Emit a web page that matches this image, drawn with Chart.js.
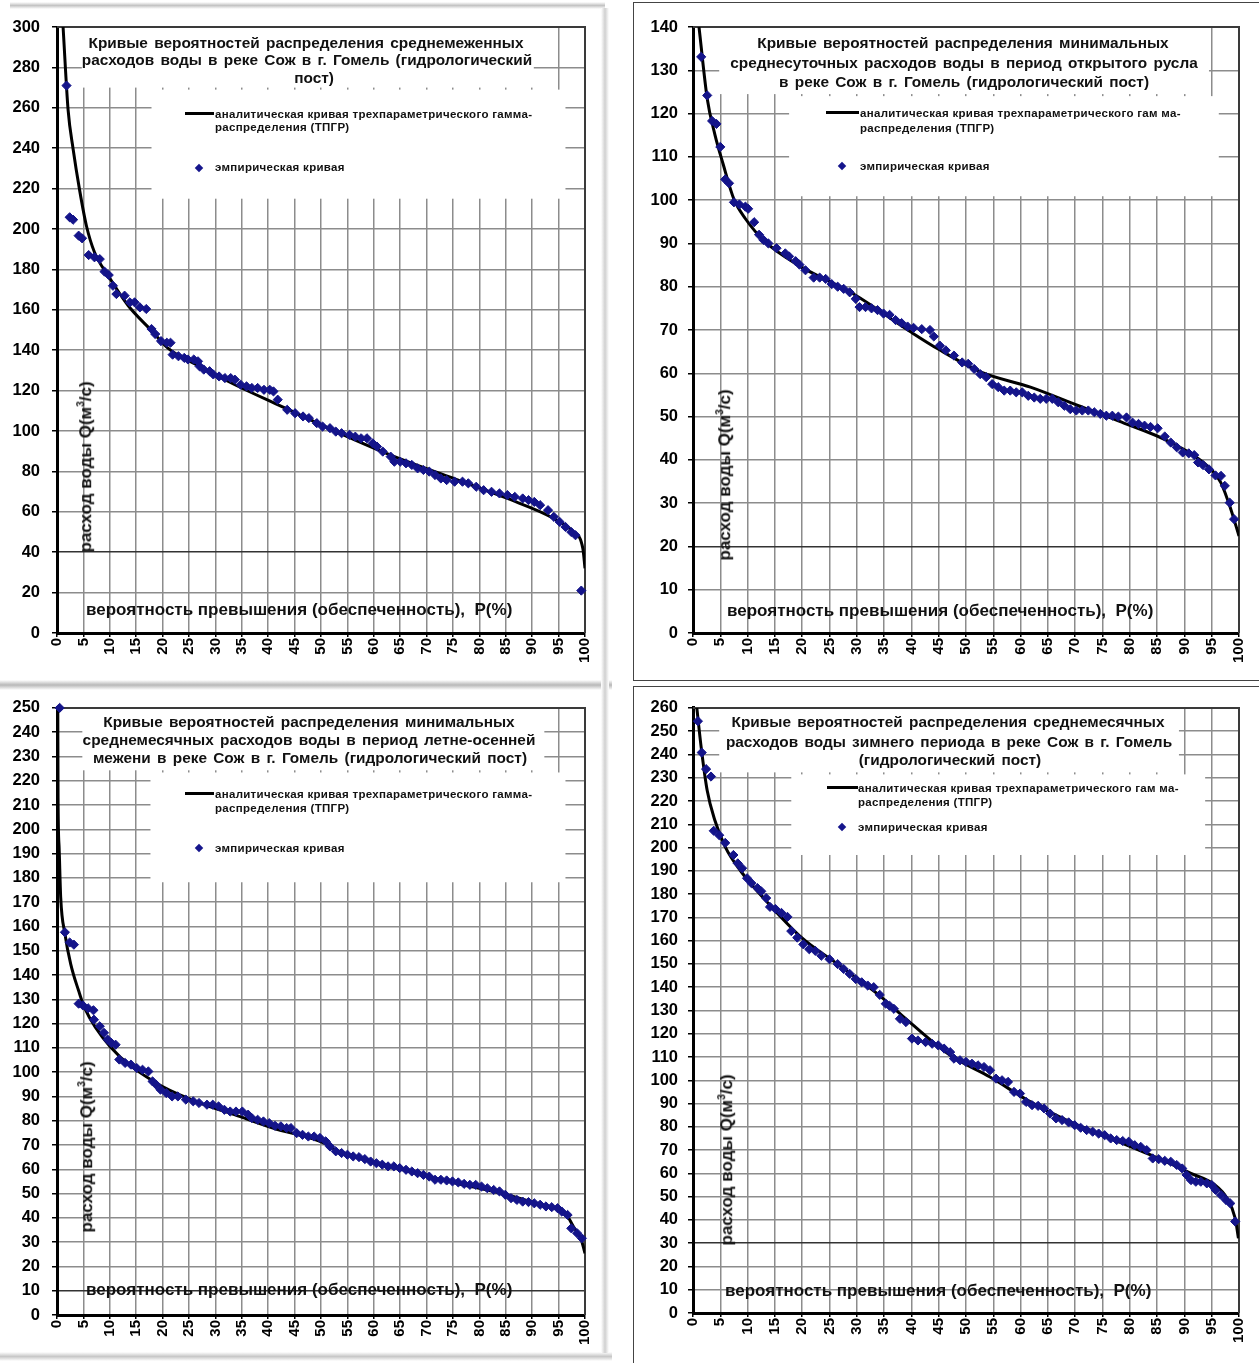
<!DOCTYPE html>
<html>
<head>
<meta charset="utf-8">
<script src="https://cdn.jsdelivr.net/npm/chart.js@4.4.1/dist/chart.umd.min.js"></script>
<style>
  body { margin: 0; background: #fff; width: 1259px; height: 1363px; position: relative; overflow: hidden;
         font-family: "Liberation Sans", Arial, sans-serif; }
  canvas { position: absolute; }
  .txt { position: absolute; font-weight: bold; white-space: nowrap; color: #111; }
  .title { font-size: 15.4px; line-height: 18px; text-align: center; word-spacing: 2px; transform: translateX(-50%); }
  .leg { font-size: 11.5px; line-height: 14px; letter-spacing: 0.3px; }
  .xt { font-size: 17px; line-height: 19px; }
  .yt { font-size: 17px; line-height: 19px; transform: translate(-50%, -50%) rotate(-90deg); }
  .legline { position: absolute; height: 3px; background: #000; }
  .legdot { position: absolute; width: 6px; height: 6px; background: #15158c; transform: translate(-50%, -50%) rotate(45deg); }
  .sep { position: absolute; }
  .frame { position: absolute; border: 1.5px solid #444; }
</style>
</head>
<body>

<div class="sep" style="left:10px;top:2px;width:595px;height:7px;background:linear-gradient(#fff,#c4c4c4,#fff)"></div>
<div class="sep" style="left:0;top:680px;width:612px;height:10px;background:linear-gradient(#fff,#b8b8b8,#fff)"></div>
<div class="sep" style="left:0;top:1352px;width:612px;height:9px;background:linear-gradient(#fff,#c8c8c8,#fff)"></div>
<div class="sep" style="left:601px;top:8px;width:8px;height:1345px;background:linear-gradient(90deg,#fff,#d0d0d0,#fff)"></div>
<div class="frame" style="left:633px;top:2px;width:660px;height:677px"></div>
<div class="frame" style="left:633px;top:686px;width:660px;height:700px"></div>

<canvas id="c1" width="604" height="680" style="left:0;top:0"></canvas>
<canvas id="c2" width="625" height="678" style="left:634px;top:2px"></canvas>
<canvas id="c3" width="604" height="677" style="left:0;top:686px"></canvas>
<canvas id="c4" width="625" height="675" style="left:634px;top:688px"></canvas>

<!-- panel 1 texts -->
<div class="txt title" style="left:306px;top:34px">Кривые вероятностей распределения среднемеженных</div>
<div class="txt title" style="left:307px;top:51px">расходов воды в реке Сож в г. Гомель (гидрологический</div>
<div class="txt title" style="left:314px;top:69px">пост)</div>
<div class="legline" style="left:185px;top:112px;width:29px"></div>
<div class="txt leg" style="left:215px;top:107px">аналитическая кривая трехпараметрического гамма-</div>
<div class="txt leg" style="left:215px;top:120px">распределения (ТПГР)</div>
<div class="legdot" style="left:199px;top:168px"></div>
<div class="txt leg" style="left:215px;top:160px">эмпирическая кривая</div>
<div class="txt xt" style="left:86px;top:600px">вероятность превышения (обеспеченность),&nbsp; P(%)</div>
<div class="txt yt" style="left:83px;top:467px">расход воды Q(м<sup style="font-size:10px">3</sup>/с)</div>

<!-- panel 2 texts -->
<div class="txt title" style="left:963px;top:34px">Кривые вероятностей распределения минимальных</div>
<div class="txt title" style="left:964px;top:54px">среднесуточных расходов воды в период открытого русла</div>
<div class="txt title" style="left:964px;top:73px">в реке Сож в г. Гомель (гидрологический пост)</div>
<div class="legline" style="left:826px;top:111px;width:33px"></div>
<div class="txt leg" style="left:860px;top:106px">аналитическая кривая трехпараметрического гам ма-</div>
<div class="txt leg" style="left:860px;top:121px">распределения (ТПГР)</div>
<div class="legdot" style="left:842px;top:166px"></div>
<div class="txt leg" style="left:860px;top:159px">эмпирическая кривая</div>
<div class="txt xt" style="left:727px;top:601px">вероятность превышения (обеспеченность),&nbsp; P(%)</div>
<div class="txt yt" style="left:722px;top:475px">расход воды Q(м<sup style="font-size:10px">3</sup>/с)</div>

<!-- panel 3 texts -->
<div class="txt title" style="left:309px;top:713px">Кривые вероятностей распределения минимальных</div>
<div class="txt title" style="left:309px;top:731px">среднемесячных расходов воды в период летне-осенней</div>
<div class="txt title" style="left:310px;top:749px">межени в реке Сож в г. Гомель (гидрологический пост)</div>
<div class="legline" style="left:185px;top:792px;width:29px"></div>
<div class="txt leg" style="left:215px;top:787px">аналитическая кривая трехпараметрического гамма-</div>
<div class="txt leg" style="left:215px;top:801px">распределения (ТПГР)</div>
<div class="legdot" style="left:199px;top:848px"></div>
<div class="txt leg" style="left:215px;top:841px">эмпирическая кривая</div>
<div class="txt xt" style="left:86px;top:1280px">вероятность превышения (обеспеченность),&nbsp; P(%)</div>
<div class="txt yt" style="left:84px;top:1147px">расход воды Q(м<sup style="font-size:10px">3</sup>/с)</div>

<!-- panel 4 texts -->
<div class="txt title" style="left:948px;top:713px">Кривые вероятностей распределения среднемесячных</div>
<div class="txt title" style="left:949px;top:733px">расходов воды зимнего периода в реке Сож в г. Гомель</div>
<div class="txt title" style="left:950px;top:751px">(гидрологический пост)</div>
<div class="legline" style="left:827px;top:786px;width:31px"></div>
<div class="txt leg" style="left:858px;top:781px">аналитическая кривая трехпараметрического гам ма-</div>
<div class="txt leg" style="left:858px;top:795px">распределения (ТПГР)</div>
<div class="legdot" style="left:842px;top:827px"></div>
<div class="txt leg" style="left:858px;top:820px">эмпирическая кривая</div>
<div class="txt xt" style="left:725px;top:1281px">вероятность превышения (обеспеченность),&nbsp; P(%)</div>
<div class="txt yt" style="left:724px;top:1160px">расход воды Q(м<sup style="font-size:10px">3</sup>/с)</div>

<script>
// Panel 1: среднемеженные расходы
const p1EmpP = [1.8, 2.4, 3.05, 4.1, 4.75, 6.0, 7.1, 8.1, 9.0, 9.8, 10.6, 11.25, 12.8, 13.8, 14.7, 15.7, 16.9, 17.9, 18.6,
  19.7, 20.8, 21.5, 21.9, 23, 24.1, 24.8, 25.9, 26.7, 27, 27.8, 28.9, 29.6, 30.7, 31.8, 32.9, 33.7, 34.8, 35.9, 36.9, 38,
  39.2, 40.3, 41, 41.8, 43.6, 45.1, 46.6, 47.7, 49.2, 50.3, 51.7, 52.8, 53.9, 55.4, 56.5, 57.6, 58.7, 59.8, 60.6, 61.7,
  63.2, 63.9, 65, 66.1, 67.2, 68.3, 69.4, 70.5, 71.6, 72.7, 73.8, 75.3, 76.8, 77.9, 79.4, 80.8, 82.3, 83.8, 85.3, 86.7,
  88.2, 89.3, 90.4, 91.5, 93, 94.1, 95.2, 96.3, 97.4, 98.2, 99.3];
const p1EmpQ = [271, 205.8, 204.6, 196.7, 195.4, 187.1, 186, 185.1, 178.9, 177.2, 171.9, 167.8, 167, 163.7, 163.7, 161.2, 160.4, 150.5, 148,
  144.5, 143.7, 143.7, 137.8, 137, 136.2, 135.4, 135.4, 134.5, 132, 130.4, 129.6, 128, 127, 126.2, 126.2, 125.4, 122.9, 122.1, 121.3, 121.3,
  120.4, 120.4, 119.6, 115.5, 110.5, 108.8, 107.2, 106.4, 103.9, 102.2, 101.4, 99.7, 98.9, 98.1, 97.2, 96.4, 96.4, 93.9, 92.3, 89.8,
  87.3, 84.8, 84.8, 84, 83.2, 81.5, 80.7, 79.9, 78.2, 76.5, 75.7, 74.9, 74.9, 74.1, 72.4, 70.7, 69.9, 69.1, 68.3, 67.4,
  66.6, 65.8, 64.9, 63.3, 60.8, 57.5, 55, 52.5, 50, 48.4, 21];
const p1CurveP = [1.15, 2.1, 3.05, 4.3, 5.57, 7.1, 9.7, 13.5, 17.9, 21, 26.3, 33.7, 42.5, 52.1, 63.2, 74.2, 85.3, 94.1, 97.8, 99.6, 100];
const p1CurveQ = [300, 259, 239.6, 219, 201.6, 188.5, 176.9, 162, 149.7, 141, 132.9, 122.9, 112.2, 100.6, 88.1, 77.4, 66.6, 56.7, 50, 41.7, 32];

// Panel 2: минимальные среднесуточные, открытое русло
const p2EmpP = [1.5, 2.6, 3.5, 4.3, 5, 5.9, 6.6, 7.5, 8.5, 9.6, 10.1, 11.2, 12.1, 12.9, 13.8, 15.3, 16.9, 17.6, 18.8, 19.5,
  20.6, 22.1, 23.2, 24.3, 25.4, 26.5, 27.6, 28.7, 29.8, 30.5, 31.6, 32.7, 33.8, 34.9, 36, 37.1, 38.2, 39.3, 40.4, 41.9,
  43.4, 44.1, 45.2, 46.3, 47.8, 49.3, 50.4, 51.5, 52.6, 53.7, 54.8, 55.9, 57, 58.1, 59.2, 60.3, 61.4, 62.5, 63.6, 64.7,
  65.8, 66.9, 68, 69.1, 70.2, 71.3, 72.4, 73.5, 74.6, 75.7, 76.8, 77.9, 79.4, 80.5, 81.6, 82.7, 83.8, 85.1, 86.4, 87.5,
  88.6, 89.7, 90.8, 91.8, 92.5, 93.4, 94.5, 95.7, 96.7, 97.4, 98.3, 99.1];
const p2EmpQ = [133.1, 124.2, 118.3, 117.6, 112.3, 104.8, 103.9, 99.5, 99, 98.5, 98, 94.9, 92, 90.8, 90, 88.9, 87.7, 87, 85.9, 85.1,
  83.8, 82.1, 82.1, 81.8, 80.6, 80, 79.5, 78.7, 77.2, 75.3, 75.3, 75, 74.6, 73.8, 73.5, 72.3, 71.6, 70.8, 70.5, 70.2,
  70, 68.5, 66.4, 65.3, 64.1, 62.5, 62.2, 61, 59.8, 59.1, 57.5, 56.8, 56, 56, 55.6, 55.6, 54.8, 54.4, 54.1, 54.1,
  54.1, 53.3, 52.5, 51.7, 51.4, 51.4, 51.4, 51, 50.6, 50.2, 50.2, 50, 49.8, 48.6, 48.3, 47.9, 47.6, 47.3, 45.4, 44,
  42.9, 41.7, 41.5, 41.1, 39.4, 38.8, 37.8, 36.4, 36.3, 34, 30.1, 26.3];
const p2CurveP = [1.1, 2.6, 4, 5.5, 7.5, 9.6, 13.2, 19.1, 29.4, 39.7, 44.9, 52.9, 61.8, 70.6, 77.9, 87.5, 94.9, 96.7, 98.5, 100];
const p2CurveQ = [140, 123.5, 115.2, 108.4, 100.2, 95.7, 90.4, 85.1, 78.3, 69.7, 65.6, 60.2, 56.8, 52.5, 49, 44, 37.8, 34.7, 28.6, 22.4];

// Panel 3: минимальные среднемесячные, летне-осенняя межень
const p3EmpP = [0.5, 1.5, 2.4, 3.2, 4.1, 4.9, 5.9, 6.9, 7, 8.1, 8.9, 9.6, 10.3, 11.1, 11.8, 12.9, 14, 15.1, 16.2, 17.3,
  18.1, 18.8, 19.6, 20.7, 21.8, 22.9, 24.4, 25.8, 26.9, 28.4, 29.5, 30.6, 31.7, 32.8, 33.9, 35.1, 36.2, 36.9, 38, 39.1,
  40.2, 41.3, 42.4, 43.5, 44.3, 45.4, 46.5, 47.6, 48.7, 49.8, 50.9, 51.7, 52.8, 53.9, 55, 56.1, 57.2, 58.3, 59.4, 60.5,
  61.6, 62.7, 63.8, 64.9, 66.1, 67.2, 68.3, 69.4, 70.5, 71.6, 72.7, 73.8, 74.9, 76, 77.1, 78.2, 79.3, 80.4, 81.5, 82.7,
  83.8, 84.9, 86, 87.1, 88.2, 89.3, 90.4, 91.5, 92.6, 93.7, 94.8, 95.6, 96.7, 97.4, 98.5, 99.4];
const p3EmpQ = [250, 157.6, 153.4, 152.5, 128.2, 127.5, 126.3, 125.5, 121.6, 118.9, 116.2, 113.4, 112, 111.3, 105.2, 103.8, 103.1, 101.7, 101, 100.3,
  96.2, 94.8, 92.8, 91.4, 90, 90, 88.7, 88, 87.3, 86.6, 86.6, 85.9, 84.5, 83.8, 83.8, 83.8, 82.5, 81.1, 80.4, 79.7,
  79, 77.9, 77.7, 77, 77, 74.9, 74.2, 73.5, 73.5, 72.9, 71.5, 69.4, 67.4, 66.7, 66, 65.3, 65, 64.2, 63.2, 62.5,
  61.9, 61.2, 61.2, 60.5, 59.8, 59.1, 58.4, 57.7, 57, 55.7, 55.7, 55.4, 55, 54.6, 54, 53.6, 53.6, 52.9, 52.2, 51.5,
  50.9, 49.5, 48.1, 47.4, 46.7, 46.5, 46, 45.4, 44.7, 44.4, 44, 42.6, 41.2, 35.7, 33.7, 31.6];
const p3CurveP = [0.15, 0.2, 0.4, 0.7, 1.5, 2.6, 4.1, 5.2, 10, 18.8, 26.2, 33.6, 40.9, 50.6, 52.8, 63.1, 74.2, 85.2, 92.6, 96.3, 97.8, 99.3, 100];
const p3CurveQ = [250, 213, 192.6, 172, 157, 144.5, 133.5, 126.6, 110.7, 95.5, 88, 82.5, 77, 70.8, 68, 61.2, 55, 49.5, 44.7, 41.9, 36.4, 30.9, 25.4];

// Panel 4: среднемесячные, зимний период
const p4EmpP = [0.9, 1.6, 2.4, 3.3, 3.8, 4.8, 5.9, 7.4, 8.2, 9, 9.9, 10.7, 11.8, 12.5, 13.4, 14.1, 15.1, 16.2, 17.3, 18,
  19.1, 20.2, 21.3, 22.4, 23.5, 25, 26.5, 27.6, 28.7, 29.8, 30.9, 32, 33.1, 34.2, 35.3, 36, 36.8, 37.9, 39, 40.1,
  41.2, 42.6, 43.8, 44.9, 46, 47.1, 47.8, 48.9, 50, 51.1, 52.2, 53.3, 54.4, 55.5, 56.6, 57.7, 58.8, 59.9, 61, 62.1,
  63.2, 64.3, 65.4, 66.5, 67.6, 68.8, 69.9, 71, 72.1, 73.2, 74.3, 75.4, 76.5, 77.6, 78.7, 79.8, 80.9, 82, 83.1, 84.2,
  85.3, 86.4, 87.5, 88.6, 89.6, 90.4, 91.2, 92.1, 93, 94.1, 95, 95.7, 96.7, 97.6, 98.4, 99.3];
const p4EmpQ = [254.3, 240.8, 233.7, 230.5, 207.2, 205.3, 202, 196.8, 193.2, 191.1, 186.8, 184.7, 182.6, 181.2, 178.3, 174.5, 173.6, 171.9, 170.2, 164.1,
  161.3, 158.4, 156.3, 155.6, 153.5, 152, 149.9, 147.8, 145.7, 143.5, 142.1, 140.7, 140, 136.7, 132.9, 132, 130.7, 126.4, 125, 117.9,
  117.1, 116.4, 115.7, 115, 113.6, 112.1, 109.3, 108.6, 107.9, 107.1, 106.4, 105.7, 104.3, 100.7, 100, 99.3, 95, 94.3, 90.7, 89.3,
  89, 87.9, 85.7, 83.6, 82.9, 81.9, 80.7, 79.6, 78.6, 77.9, 77.1, 76.4, 75, 74.3, 73.9, 73.6, 72.1, 71.4, 70, 66.4,
  66.1, 65.4, 65, 63.6, 62.1, 59.3, 57.1, 56.4, 56.4, 55.7, 55, 52.9, 50.7, 48.6, 47.1, 39.3];
const p4CurveP = [0.7, 1.5, 2.6, 4, 5.9, 8.8, 13.2, 19.9, 26.5, 33.8, 38.2, 47.1, 54.4, 61.8, 69.1, 76.5, 83.8, 91.2, 95.6, 97.8, 99.3, 99.9];
const p4CurveQ = [260, 243, 224.5, 211.7, 200.3, 189.7, 177.6, 161.3, 149.9, 137.1, 128, 110.7, 101.4, 90.7, 82.1, 75, 67.9, 60, 55, 49.3, 40.7, 32.1];

const FONT = '"Liberation Sans", Arial, sans-serif';
const GRID = '#8c8c8c';

// white boxes behind title and legend + top/right frame of the plot area
const boxPlugin = {
  id: 'boxes',
  beforeDatasetsDraw(chart, args, opts) {
    const { ctx, chartArea: a, scales: { x, y } } = chart;
    ctx.save();
    ctx.fillStyle = '#fff';
    (opts.rects || []).forEach(r => {
      const x1 = x.getPixelForValue(r[0]), x2 = x.getPixelForValue(r[1]);
      const y1 = y.getPixelForValue(r[2]), y2 = y.getPixelForValue(r[3]);
      ctx.fillRect(x1, y1 - 1, x2 - x1, y2 - y1 + 1);
    });
    ctx.strokeStyle = '#3a3a3a';
    ctx.lineWidth = 2;
    ctx.beginPath();
    ctx.moveTo(a.left, a.top);
    ctx.lineTo(a.right, a.top);
    ctx.lineTo(a.right, a.bottom);
    ctx.stroke();
    ctx.restore();
  }
};

function drawPanel(id, cfg) {
  const curve = cfg.curveP.map((p, i) => ({ x: p, y: cfg.curveQ[i] }));
  const emp = cfg.empP.map((p, i) => ({ x: p, y: cfg.empQ[i] }));

  return new Chart(document.getElementById(id), {
    type: 'scatter',
    data: {
      datasets: [
        {
          label: 'аналитическая кривая трехпараметрического гамма-распределения (ТПГР)',
          data: curve,
          showLine: true,
          borderColor: '#000',
          borderWidth: 3,
          pointRadius: 0,
          cubicInterpolationMode: 'monotone',
          order: 1
        },
        {
          label: 'эмпирическая кривая',
          data: emp,
          pointStyle: 'rectRot',
          pointRadius: 4.6,
          backgroundColor: '#14148a',
          borderColor: '#14148a',
          borderWidth: 1,
          clip: false,
          order: 0
        }
      ]
    },
    options: {
      responsive: false,
      animation: false,
      layout: { padding: { top: cfg.padTop, right: cfg.padRight, left: 0, bottom: 0 } },
      plugins: {
        legend: { display: false },
        tooltip: { enabled: false },
        boxes: { rects: cfg.rects }
      },
      scales: {
        x: {
          type: 'linear',
          min: 0,
          max: 100,
          afterFit: s => { s.height = cfg.xH; },
          ticks: {
            stepSize: 5,
            autoSkip: false,
            minRotation: 90,
            maxRotation: 90,
            padding: 1,
            color: '#000',
            font: { family: FONT, size: 15, weight: 'bold' }
          },
          grid: { color: GRID, lineWidth: 1.5, tickLength: 4, tickColor: '#000' },
          border: { color: '#000', width: 3 }
        },
        y: {
          type: 'linear',
          min: 0,
          max: cfg.yMax,
          afterFit: s => { s.width = cfg.yW; },
          ticks: {
            stepSize: cfg.yStep,
            padding: cfg.yPad,
            color: '#000',
            font: { family: FONT, size: 16.5, weight: 'bold' }
          },
          grid: {
            color: c => (c.tick && c.tick.value === cfg.darkQ ? '#333' : GRID),
            lineWidth: 1.5,
            tickLength: 5,
            tickColor: '#000'
          },
          border: { color: '#000', width: 3 }
        }
      }
    },
    plugins: [boxPlugin]
  });
}

drawPanel('c1', {
  empP: p1EmpP, empQ: p1EmpQ, curveP: p1CurveP, curveQ: p1CurveQ,
  yMax: 300, yStep: 20, yW: 57, yPad: 12, padTop: 27, padRight: 12, xH: 47, darkQ: 40,
  rects: [[4.7, 90.3, 300, 270], [17.9, 96.3, 268.5, 215]]
});

drawPanel('c2', {
  empP: p2EmpP, empQ: p2EmpQ, curveP: p2CurveP, curveQ: p2CurveQ,
  yMax: 140, yStep: 10, yW: 59, yPad: 10, padTop: 25, padRight: 20, xH: 47, darkQ: 20,
  rects: [[4.8, 94.5, 140, 124.5], [17.6, 96.3, 123.8, 100.9]]
});

drawPanel('c3', {
  empP: p3EmpP, empQ: p3EmpQ, curveP: p3CurveP, curveQ: p3CurveQ,
  yMax: 250, yStep: 10, yW: 57, yPad: 12, padTop: 20, padRight: 12, xH: 48, darkQ: 10,
  rects: [[4.8, 92.3, 250, 224.3], [17.7, 96.3, 223, 178.2]]
});

drawPanel('c4', {
  empP: p4EmpP, empQ: p4EmpQ, curveP: p4CurveP, curveQ: p4CurveQ,
  yMax: 260, yStep: 10, yW: 59, yPad: 10, padTop: 19, padRight: 20, xH: 50, darkQ: 30,
  rects: [[4.8, 89, 260, 232.3], [18, 93.8, 231, 196.8]]
});
</script>
</body>
</html>
